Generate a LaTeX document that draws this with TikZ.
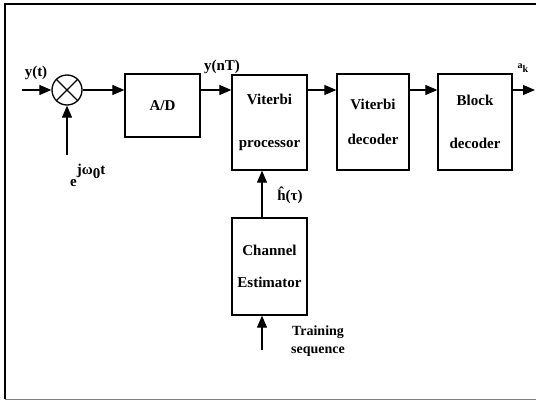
\documentclass[tikz,border=0pt]{standalone}
\usepackage{fontspec}
\setmainfont{Liberation Serif}
\usetikzlibrary{arrows.meta}

\tikzset{
  block/.style={rectangle,draw,line width=1.3pt,align=center,inner sep=0pt,
    font=\bfseries\fontsize{15}{17}\selectfont},
  lbl/.style={inner sep=0pt,font=\bfseries\fontsize{15}{17}\selectfont},
  sig/.style={>={Triangle[length=12pt,width=10pt]},line width=1.2pt},
}

\begin{document}
\begin{tikzpicture}[x=1pt,y=-1pt]
            \useasboundingbox (0,0) rectangle (536,401);
            % frame
            \draw[line width=2.2pt] (5,399) -- (5,4) -- (536,4);
            \draw[gray,line width=0.8pt] (5,399.5) -- (536,399.5);

            \node[circle,draw,line width=1.3pt,minimum size=30pt,inner sep=0pt]
            	(mix) 	at (67,90) {};
            \draw[line width=1.1pt] (mix.north west) -- (mix.south east)
            	(mix.north east) -- (mix.south west);
            \node[block,minimum width=75pt,minimum height=63pt]
            	(ad) 	at (162.5,105.5) {A/D};
            \node[block,minimum width=75pt,minimum height=95pt]
            	(vp) 	at (269.5,122.5) {Viterbi\\[26pt]processor};
            \node[block,minimum width=72pt,minimum height=96pt]
            	(vd) 	at (373,122) {Viterbi\\[18pt]decoder};
            \node[block,minimum width=74pt,minimum height=96pt]
            	(bd) 	at (475,122) {Block\\[26pt]decoder};
            \node[block,minimum width=75pt,minimum height=97pt]
            	(ce) 	at (269.5,266.5) {Channel\\[15pt]Estimator};

            \coordinate (yin) at (22,90);
            \coordinate (ein) at (67,155);
            \coordinate (ak) at (535,90);
            \coordinate (tin) at (262,350);

            \node[lbl] (ytl) at (36,73) {y(t)};
            \node[lbl] (yntl) at (222,67) {y(nT)};
            \node[lbl,anchor=base west]
            	(expl) at (70,187) {e\raisebox{13pt}{jω\raisebox{-4pt}{0}t}};
            \node[lbl] (hl) at (290,195) {\^{h}(τ)};
            \node[lbl,font=\bfseries\fontsize{10}{12}\selectfont]
            	(akl) at (523,68) {a\raisebox{-4pt}{k}};
            \node[lbl,align=center,font=\bfseries\fontsize{14}{15}\selectfont]
            	(trl) at (318,341) {Training\\[3pt]sequence};

            \begin{scope}[sig]
                \path[->] (yin) edge (mix);
                \path[->] (ein) edge (mix);
                \path[->] (mix) edge (mix -| ad.west);
                \path[->] (ad.east |- mix) edge (mix -| vp.west);
                \path[->] (vp.east |- mix) edge (mix -| vd.west);
                \path[->] (vd.east |- mix) edge (mix -| bd.west);
                \path[->] (bd.east |- mix) edge (ak);
                \path[->] (ce.north -| tin) edge (vp.south -| tin);
                \path[->] (tin) edge (ce.south -| tin);
            \end{scope}
        \end{tikzpicture}
\end{document}
